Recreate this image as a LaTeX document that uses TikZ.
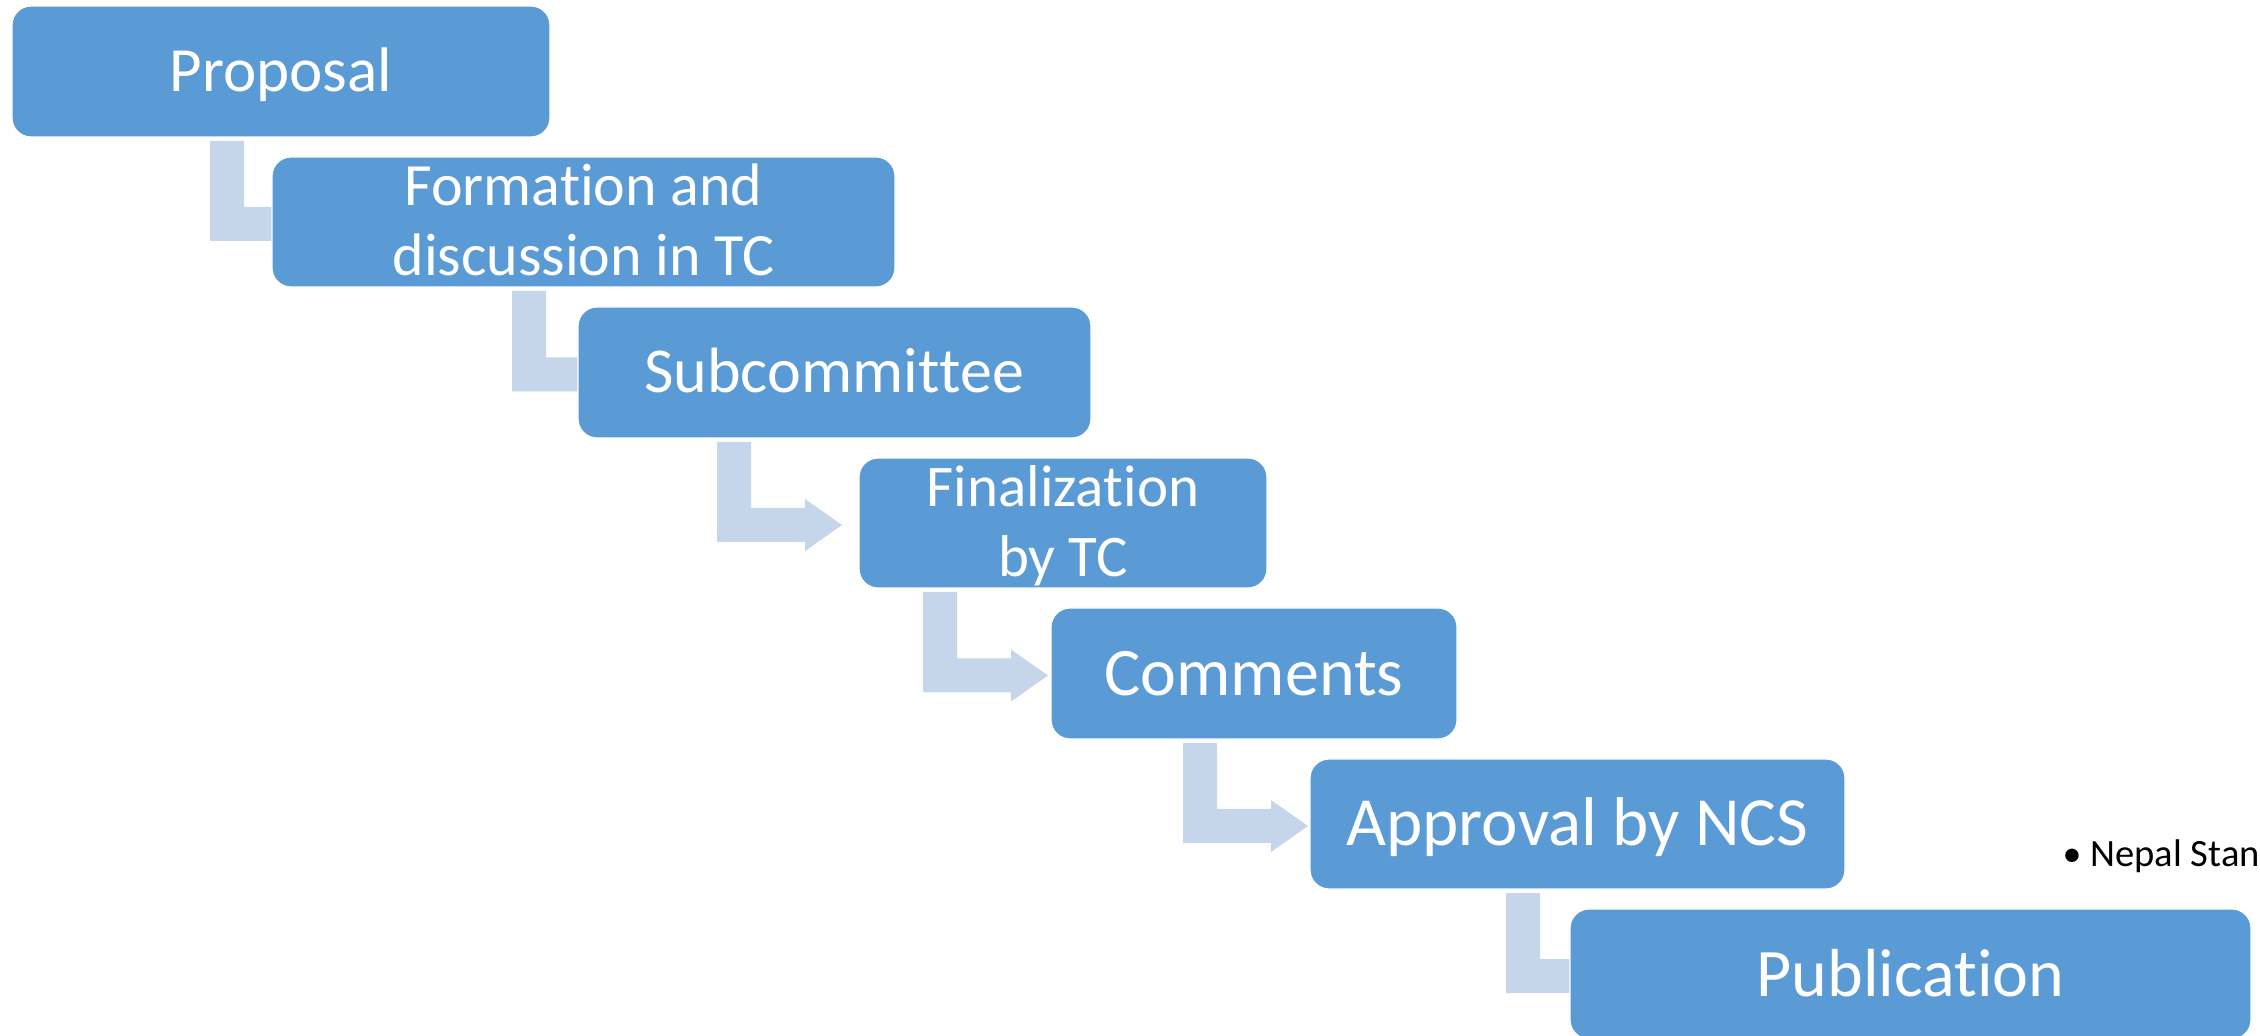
\documentclass[tikz,border=0pt]{standalone}
\usepackage{fontspec}
\setmainfont{Carlito}[Ligatures={NoCommon,NoContextual,NoRare}]
\usetikzlibrary{calc}
\definecolor{boxblue}{HTML}{5B9BD5}
\definecolor{arrblue}{HTML}{C5D5EA}
\pgfdeclarelayer{bg}
\pgfsetlayers{bg,main}
\newcommand\nolig{\kern0pt}
% bent-up arrow: #1 from node, #2 to node, #3 x offset (px) of the bar from #1's west side
\newcommand\bentarrow[3]{%
  \begin{pgfonlayer}{bg}
  \fill[arr] let \p1=($(#1.south west)+(#3,4)$), \p2=($(#2.west)+(0,2)$) in
    (\x1,\y1) -- (\x1+17pt,\y1) -- (\x1+17pt,\y2+8.5pt) -- (\x1+44pt,\y2+8.5pt)
    -- (\x1+44pt,\y2+13pt) -- (\x1+62.5pt,\y2) -- (\x1+44pt,\y2-13pt)
    -- (\x1+44pt,\y2-8.5pt) -- (\x1,\y2-8.5pt) -- cycle;
  \end{pgfonlayer}}
\begin{document}
\begin{tikzpicture}[x=0.5pt,y=-0.5pt,
  box/.style={rectangle, rounded corners=9.5pt, fill=boxblue, draw=white, line width=0.6pt, inner sep=0pt, outer sep=0pt},
  arr/.style={fill=arrblue},
  lbl/.style={text=white, inner sep=0pt, outer sep=0pt, anchor=base}]
\useasboundingbox (0,0) rectangle (2260,1036);
\clip (0,0) rectangle (2260,1036);
% boxes
\node[box, minimum width=269pt, minimum height=65.5pt] (b1) at (281,71.5) {};
\node[box, minimum width=311.5pt, minimum height=65pt] (b2) at (583.5,222) {};
\node[box, minimum width=256.5pt, minimum height=65.5pt] (b3) at (834.5,372.5) {};
\node[box, minimum width=204pt, minimum height=65pt] (b4) at (1063,523) {};
\node[box, minimum width=203pt, minimum height=65.5pt] (b5) at (1254,673.5) {};
\node[box, minimum width=267.5pt, minimum height=65pt] (b6) at (1577.5,824) {};
\node[box, minimum width=340.5pt, minimum height=65pt] (b7) at (1910.5,974) {};
% connectors
\bentarrow{b1}{b2}{198}
\bentarrow{b2}{b3}{240}
\bentarrow{b3}{b4}{139}
\bentarrow{b4}{b5}{64}
\bentarrow{b5}{b6}{132}
\bentarrow{b6}{b7}{196}
% labels
\node[lbl, font=\fontsize{31.5}{31.5}\selectfont] (t1) at ($(b1.center)+(0,20)$) {Proposal};
\node[lbl, font=\fontsize{30}{30}\selectfont] (t2a) at ($(b2.center)+(0,-16)$) {Format\nolig ion and};
\node[lbl, font=\fontsize{30}{30}\selectfont] (t2b) at ($(b2.center)+(0,54)$) {discussion in TC};
\node[lbl, font=\fontsize{32}{32}\selectfont] (t3) at ($(b3.center)+(0,20)$) {Subcommit\nolig t\nolig ee};
\node[lbl, font=\fontsize{29.5}{29.5}\selectfont] (t4a) at ($(b4.center)+(0,-16)$) {Finalizat\nolig ion};
\node[lbl, font=\fontsize{29.5}{29.5}\selectfont] (t4b) at ($(b4.center)+(0,54)$) {by TC};
\node[lbl, font=\fontsize{34}{34}\selectfont] (t5) at ($(b5.center)+(0,22)$) {Comments};
\node[lbl, font=\fontsize{34.5}{34.5}\selectfont] (t6) at ($(b6.center)+(0,22)$) {Approval by NCS};
\node[lbl, font=\fontsize{34}{34}\selectfont] (t7) at ($(b7.center)+(0,22)$) {Publicat\nolig ion};
% side text
\node[inner sep=0pt, anchor=base, font=\fontsize{19}{19}\selectfont] (nb) at (2072,867) {•};
\node[inner sep=0pt, anchor=base west, font=\fontsize{19.3}{19.3}\selectfont] (nt) at (2090,867) {Nepal Stan};
\end{tikzpicture}
\end{document}
